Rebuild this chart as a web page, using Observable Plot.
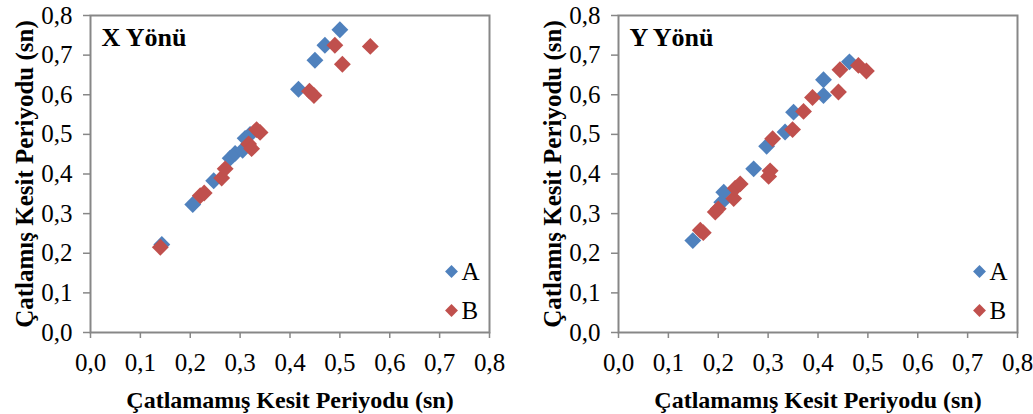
<!DOCTYPE html>
<html>
<head>
<meta charset="utf-8">
<script src="https://cdn.jsdelivr.net/npm/d3@7"></script>
<script src="https://cdn.jsdelivr.net/npm/@observablehq/plot@0.6"></script>
<style>
  html, body { margin: 0; padding: 0; background: white; }
  #wrap { display: flex; width: 1033px; height: 414px; }
</style>
</head>
<body>
<div id="wrap"></div>
<script>
// Tick values (both axes)
const ticks = [0, 0.1, 0.2, 0.3, 0.4, 0.5, 0.6, 0.7, 0.8];
const seriesNames = ["A", "B"];
const seriesColors = ["#4F81BD", "#C0504D"];
const panelTitles = ["X Yönü", "Y Yönü"];
const xTitle = "Çatlamamış Kesit Periyodu (sn)";
const yTitle = "Çatlamış Kesit Periyodu (sn)";

// X Yönü: [uncracked period, cracked period]
const xA = [[0.143,0.222],[0.205,0.323],[0.247,0.383],[0.28,0.44],[0.29,0.452],[0.305,0.46],[0.31,0.49],[0.32,0.5],[0.417,0.614],[0.45,0.687],[0.47,0.725],[0.5,0.764]];
const xB = [[0.14,0.215],[0.22,0.345],[0.228,0.352],[0.263,0.39],[0.27,0.413],[0.317,0.476],[0.323,0.464],[0.333,0.512],[0.34,0.505],[0.439,0.609],[0.448,0.598],[0.49,0.725],[0.505,0.677],[0.561,0.722]];
// Y Yönü
const yA = [[0.149,0.232],[0.207,0.329],[0.211,0.354],[0.271,0.413],[0.297,0.47],[0.334,0.506],[0.351,0.556],[0.411,0.598],[0.411,0.638],[0.463,0.683]];
const yB = [[0.164,0.258],[0.17,0.252],[0.194,0.304],[0.2,0.312],[0.231,0.338],[0.234,0.364],[0.244,0.375],[0.301,0.394],[0.304,0.408],[0.309,0.489],[0.349,0.512],[0.371,0.558],[0.389,0.593],[0.441,0.607],[0.444,0.663],[0.481,0.674],[0.497,0.66]];

const fmt = d => d.toFixed(1).replace(".", ",");
const gray = "#878787";
const font = "'Liberation Serif', 'Times New Roman', serif";

function panel(A, B, title, width, ml, mr) {
  return Plot.plot({
    width, height: 414,
    marginTop: 15, marginBottom: 82, marginLeft: ml, marginRight: mr,
    style: {fontFamily: font, fontSize: "25px", color: "black", background: "white", overflow: "visible"},
    x: {domain: [0, 0.8]},
    y: {domain: [0, 0.8]},
    marks: [
      Plot.frame({stroke: gray, strokeWidth: 2}),
      Plot.axisX({ticks, tickFormat: fmt, tickSize: 6, tickPadding: 15, stroke: gray, strokeWidth: 1.5, fill: "black", label: null, fontSize: 25}),
      Plot.axisY({ticks, tickFormat: fmt, tickSize: 7, tickPadding: 11, stroke: gray, strokeWidth: 1.5, fill: "black", label: null, fontSize: 25}),
      Plot.dot(A, {x: d => d[0], y: d => d[1], symbol: "diamond2", r: 7.6, fill: seriesColors[0]}),
      Plot.dot(B, {x: d => d[0], y: d => d[1], symbol: "diamond2", r: 7.6, fill: seriesColors[1]}),
      Plot.text([title], {frameAnchor: "top-left", text: d => d, dx: 11, dy: 12, lineAnchor: "top", textAnchor: "start", fontWeight: "bold", fontSize: 26, fill: "black"}),
      Plot.text([xTitle], {frameAnchor: "bottom", text: d => d, dy: 68, textAnchor: "middle", lineAnchor: "middle", fontWeight: "bold", fontSize: 24, fill: "black"}),
      Plot.text([yTitle], {frameAnchor: "left", text: d => d, dx: -66, rotate: -90, textAnchor: "middle", lineAnchor: "middle", fontWeight: "bold", fontSize: 25, fill: "black"}),
      // legend
      Plot.dot([seriesNames[0]], {frameAnchor: "bottom-right", dx: -38, dy: -61, symbol: "diamond2", r: 5.8, fill: seriesColors[0]}),
      Plot.dot([seriesNames[1]], {frameAnchor: "bottom-right", dx: -38, dy: -22, symbol: "diamond2", r: 5.8, fill: seriesColors[1]}),
      Plot.text([seriesNames[0]], {frameAnchor: "bottom-right", text: d => d, dx: -28, dy: -61, textAnchor: "start", lineAnchor: "middle", fontSize: 25, fill: "black"}),
      Plot.text([seriesNames[1]], {frameAnchor: "bottom-right", text: d => d, dx: -28, dy: -22, textAnchor: "start", lineAnchor: "middle", fontSize: 25, fill: "black"})
    ]
  });
}

const wrap = document.getElementById("wrap");
wrap.append(panel(xA, xB, panelTitles[0], 516, 90, 27));
wrap.append(panel(yA, yB, panelTitles[1], 517, 102, 16));
</script>
</body>
</html>
